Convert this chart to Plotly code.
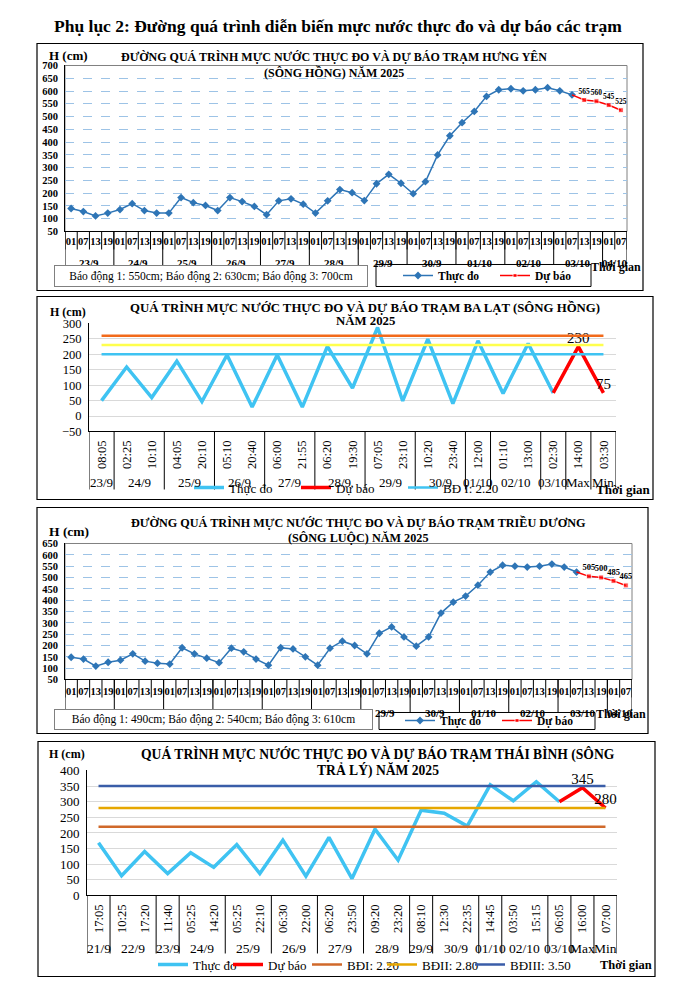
import plotly.graph_objects as go

W, H = 683, 999
SERIF = "Liberation Serif"

# ---------------- DATA ----------------
# Panel 1: Hưng Yên (sông Hồng)
hy_days = ["23/9"] * 4 + ["24/9"] * 4 + ["25/9"] * 4 + ["26/9"] * 4 + ["27/9"] * 4 + ["28/9"] * 4 + \
          ["29/9"] * 4 + ["30/9"] * 4 + ["01/10"] * 4 + ["02/10"] * 4 + ["03/10"] * 4 + ["04/10"] * 2
hy_hours = ["01", "07", "13", "19"] * 11 + ["01", "07"]
hy_obs = [140, 128, 111, 122, 136, 159, 132, 122, 122, 183, 163, 152, 132, 183, 167, 148,
          116, 170, 178, 157, 122, 170, 214, 202, 171, 237, 274, 239, 198, 245, 350, 425,
          476, 520, 579, 605, 609, 601, 605, 613, 601, 585]
hy_fc = [565, 560, 545, 525]
hy_alarm = "Báo động 1: 550cm; Báo động 2: 630cm; Báo động 3: 700cm"

# Panel 2: Ba Lạt (sông Hồng)
bl_days = ["23/9", "24/9", "24/9", "25/9", "25/9", "26/9", "26/9", "27/9", "27/9", "28/9", "28/9",
           "29/9", "29/9", "30/9", "30/9", "01/10", "02/10", "02/10", "03/10", "Max", "Min"]
bl_times = ["08:05", "02:25", "10:10", "04:05", "20:10", "05:10", "20:40", "06:00", "21:55", "06:20",
            "19:30", "07:05", "23:10", "10:20", "23:40", "12:00", "01:10", "13:00", "02:30", "14:00", "03:30"]
bl_obs = [50, 159, 60, 178, 47, 198, 29, 198, 29, 226, 91, 287, 49, 249, 40, 244, 73, 235, 75]
bl_fc = [225, 75]
bl_fc_labels = ["", "230", "75"]
bl_bd1, bl_bd2, bl_bd3 = 200, 230, 260

# Panel 3: Triều Dương (sông Luộc)
td_days = hy_days
td_hours = hy_hours
td_obs = [148, 140, 109, 126, 135, 163, 131, 122, 118, 190, 163, 144, 124, 188, 172, 140,
          113, 190, 185, 150, 113, 188, 219, 200, 163, 254, 282, 238, 197, 238, 343, 391,
          418, 466, 524, 554, 550, 546, 550, 559, 546, 524]
td_fc = [505, 500, 485, 465]
td_alarm = "Báo động 1: 490cm; Báo động 2: 540cm; Báo động 3: 610cm"

# Panel 4: Thái Bình (sông Trà Lý)
tb_days = ["21/9", "22/9", "22/9", "23/9", "24/9", "24/9", "25/9", "25/9", "26/9", "26/9", "27/9", "27/9",
           "28/9", "28/9", "29/9", "30/9", "30/9", "01/10", "02/10", "02/10", "03/10", "Max", "Min"]
tb_times = ["17:05", "10:25", "17:20", "11:40", "05:25", "14:20", "05:25", "22:10", "06:30", "22:00",
            "06:20", "23:50", "09:20", "23:20", "08:10", "12:30", "22:35", "14:45", "03:50", "15:15",
            "06:05", "16:00", "07:00"]
tb_obs = [169, 63, 141, 70, 137, 90, 163, 70, 177, 62, 186, 54, 212, 113, 273, 263, 222, 354, 303, 364, 300]
tb_fc = [345, 280]
tb_bd1, tb_bd2, tb_bd3 = 220, 280, 350

# ---------------- HELPERS ----------------
def px(x):
    return x / W

def py(y):
    # vertical pixel position -> paper fraction (with a small correction for the page capture)
    return 1 - ((y - 7.5) / 0.985) / H

def groups(days):
    out, s = [], 0
    for i in range(1, len(days) + 1):
        if i == len(days) or days[i] != days[s]:
            out.append((s, i - 1, days[s]))
            s = i
    return out

BLUE = "#2E75B6"
RED = "#FF0000"
CYAN = "#3FC3F2"

fig = go.Figure()
shapes = []
ann = []

def text(x, y, s, size, bold=True, xanchor="center"):
    ann.append(dict(x=px(x), y=py(y), xref="paper", yref="paper", text=s, showarrow=False,
                    xanchor=xanchor, yanchor="middle",
                    font=dict(family=SERIF, size=size, color="black", weight="bold" if bold else "normal")))

def category_table(xref, days, y_axis, y_cell, y_div, y_lab, font, cell_lines):
    n = len(days)
    g = groups(days)
    if cell_lines:
        for i in range(n + 1):
            shapes.append(dict(type="line", xref=xref, yref="paper", x0=i - 0.5, x1=i - 0.5,
                               y0=py(y_axis), y1=py(y_cell), line=dict(color="black", width=1)))
    bounds = sorted(set([s - 0.5 for s, e, _ in g] + [g[-1][1] + 0.5]))
    for b in bounds:
        shapes.append(dict(type="line", xref=xref, yref="paper", x0=b, x1=b,
                           y0=py(y_axis), y1=py(y_div), line=dict(color="black", width=1)))
    for s, e, lab in g:
        ann.append(dict(x=(s + e) / 2, y=py(y_lab), xref=xref, yref="paper", text=lab, showarrow=False,
                        xanchor="center", yanchor="middle", font=font))

# ---------- Panel 1 ----------
i1 = list(range(len(hy_days)))
n = len(hy_obs)
fig.add_trace(go.Scatter(
    x=i1[:n], y=hy_obs, mode="lines+markers", name="Thực đo",
    line=dict(color=BLUE, width=1.5), marker=dict(symbol="diamond", size=6, color=BLUE),
    xaxis="x", yaxis="y", legend="legend"))
fig.add_trace(go.Scatter(
    x=i1[n - 1:], y=[hy_obs[-1]] + hy_fc, mode="lines+markers+text",
    name="Dự báo", text=[""] + [str(v) for v in hy_fc], textposition="top center",
    textfont=dict(family=SERIF, size=7.5, color="black", weight="bold"),
    line=dict(color=RED, width=1.5), marker=dict(symbol="square", size=[0, 5, 5, 5, 5], color=RED),
    xaxis="x", yaxis="y", legend="legend"))

# ---------- Panel 2 ----------
i2 = list(range(len(bl_days)))
m = len(bl_obs)
fig.add_trace(go.Scatter(
    x=i2[:m], y=bl_obs, mode="lines", name="Thực đo",
    line=dict(color=CYAN, width=3.5), xaxis="x2", yaxis="y2", legend="legend2"))
fig.add_trace(go.Scatter(
    x=i2[m - 1:], y=[bl_obs[-1]] + bl_fc, mode="lines+text",
    name="Dự báo", text=bl_fc_labels, textposition="top center",
    textfont=dict(family=SERIF, size=15, color="black"),
    line=dict(color=RED, width=3.5), xaxis="x2", yaxis="y2", legend="legend2"))
fig.add_trace(go.Scatter(
    x=i2, y=[bl_bd1] * len(i2), mode="lines", name="BĐ I: 2.20",
    line=dict(color=CYAN, width=2.5), xaxis="x2", yaxis="y2", legend="legend2"))
fig.add_trace(go.Scatter(
    x=i2, y=[bl_bd2] * len(i2), mode="lines", name="BĐ II",
    line=dict(color="#FFFF4D", width=2.5), xaxis="x2", yaxis="y2", showlegend=False))
fig.add_trace(go.Scatter(
    x=i2, y=[bl_bd3] * len(i2), mode="lines", name="BĐ III",
    line=dict(color="#F26A1B", width=2.5), xaxis="x2", yaxis="y2", showlegend=False))

# ---------- Panel 3 ----------
i3 = list(range(len(td_days)))
k = len(td_obs)
fig.add_trace(go.Scatter(
    x=i3[:k], y=td_obs, mode="lines+markers", name="Thực đo",
    line=dict(color=BLUE, width=1.5), marker=dict(symbol="diamond", size=6, color=BLUE),
    xaxis="x3", yaxis="y3", legend="legend3"))
fig.add_trace(go.Scatter(
    x=i3[k - 1:], y=[td_obs[-1]] + td_fc, mode="lines+markers+text",
    name="Dự báo", text=[""] + [str(v) for v in td_fc], textposition="top center",
    textfont=dict(family=SERIF, size=8.5, color="black", weight="bold"),
    line=dict(color=RED, width=1.5), marker=dict(symbol="square", size=[0, 5, 5, 5, 5], color=RED),
    xaxis="x3", yaxis="y3", legend="legend3"))

# ---------- Panel 4 ----------
i4 = list(range(len(tb_days)))
q = len(tb_obs)
fig.add_trace(go.Scatter(
    x=i4[:q], y=tb_obs, mode="lines", name="Thực đo",
    line=dict(color=CYAN, width=3.5), xaxis="x4", yaxis="y4", legend="legend4"))
fig.add_trace(go.Scatter(
    x=i4[q - 1:], y=[tb_obs[-1]] + tb_fc, mode="lines+text",
    name="Dự báo", text=[""] + [str(v) for v in tb_fc], textposition="top center",
    textfont=dict(family=SERIF, size=15, color="black"),
    line=dict(color=RED, width=3.5), xaxis="x4", yaxis="y4", legend="legend5"))
fig.add_trace(go.Scatter(
    x=i4, y=[tb_bd1] * len(i4), mode="lines", name="BĐI: 2.20",
    line=dict(color="#D0692A", width=2.5), xaxis="x4", yaxis="y4", legend="legend6"))
fig.add_trace(go.Scatter(
    x=i4, y=[tb_bd2] * len(i4), mode="lines", name="BĐII: 2.80",
    line=dict(color="#E6A700", width=2.5), xaxis="x4", yaxis="y4", legend="legend7"))
fig.add_trace(go.Scatter(
    x=i4, y=[tb_bd3] * len(i4), mode="lines", name="BĐIII: 3.50",
    line=dict(color="#3A5DA8", width=2.5), xaxis="x4", yaxis="y4", legend="legend8"))

# ---------------- AXES ----------------
bold10 = dict(family=SERIF, size=10.5, color="black", weight="bold")
bold11 = dict(family=SERIF, size=11, color="black", weight="bold")
norm12 = dict(family=SERIF, size=12.5, color="black")
norm13 = dict(family=SERIF, size=13, color="black")

def xax(domain, anchor, labels, font, angle, standoff=0):
    n = len(labels)
    return dict(domain=domain, anchor=anchor, type="linear", range=[-0.5, n - 0.5],
                tickmode="array", tickvals=list(range(n)), ticktext=labels, tickangle=angle,
                ticks="", showgrid=False, zeroline=False, showline=True, linecolor="black",
                linewidth=1, tickfont=font, ticklabelstandoff=standoff, fixedrange=True)

def yax(domain, anchor, rng, font, grid, dash):
    return dict(domain=domain, anchor=anchor, range=rng, dtick=50, tick0=0, showgrid=True,
                gridcolor=grid, griddash=dash, gridwidth=1, showline=True, linecolor="black",
                zeroline=False, ticks="", tickfont=font, ticklabelstandoff=4, fixedrange=True)

fig.update_layout(
    xaxis=xax([px(65), px(627)], "y", hy_hours, bold10, 0),
    yaxis=yax([py(232), py(66)], "x", [50, 700], bold10, "#9DC3E6", "dash"),
    xaxis2=xax([px(89), px(616)], "y2", bl_times, norm12, -90, 3),
    yaxis2=yax([py(432), py(324)], "x2", [-50, 300], norm12, "#D9D9D9", "solid"),
    xaxis3=xax([px(65), px(632)], "y3", td_hours, bold10, 0, 2),
    yaxis3=yax([py(680), py(544)], "x3", [50, 650], bold10, "#9DC3E6", "dash"),
    xaxis4=xax([px(87), px(617)], "y4", tb_times, norm12, -90, 3),
    yaxis4=yax([py(896), py(771)], "x4", [0, 400], norm13, "#D9D9D9", "solid"),
)

# category tables (dividers + date labels)
category_table("x", hy_days, 232, 250, 268, 264, bold11, True)
category_table("x2", bl_days, 432, 432, 490, 483, norm13, False)
category_table("x3", td_days, 680, 698, 713, 714, bold11, True)
category_table("x4", tb_days, 896, 896, 954, 949, dict(family=SERIF, size=13.5, color="black"), False)

# ---------------- LEGENDS ----------------
def leg(x, y, font, ew=0):
    d = dict(x=px(x), y=py(y), xanchor="left", yanchor="middle", orientation="h",
             bgcolor="rgba(0,0,0,0)", borderwidth=0, font=font, traceorder="normal",
             itemwidth=30, tracegroupgap=0)
    if ew:
        d["entrywidth"] = ew
        d["entrywidthmode"] = "pixels"
    return d

f13 = dict(family=SERIF, size=13, color="black")
fig.update_layout(
    legend=leg(398, 276, dict(family=SERIF, size=11.5, color="black", weight="bold"), 52),
    legend2=leg(189, 488, f13, 62),
    legend3=leg(400, 721, dict(family=SERIF, size=11.5, color="black", weight="bold"), 52),
    legend4=leg(153, 965, f13),
    legend5=leg(228, 965, f13),
    legend6=leg(307, 965, f13),
    legend7=leg(382, 965, f13),
    legend8=leg(470, 965, f13),
)

# ---------------- FRAMES ----------------
for (x0, y0, x1, y1) in [(37, 44, 643, 291), (37, 297, 653, 500), (37, 508, 648, 734), (38, 742, 655, 977)]:
    shapes.append(dict(type="rect", xref="paper", yref="paper", x0=px(x0), x1=px(x1), y0=py(y1), y1=py(y0),
                       line=dict(color="black", width=1.2), fillcolor="rgba(0,0,0,0)", layer="above"))
for xr, yr in [("x", "y"), ("x3", "y3")]:
    shapes.append(dict(type="rect", xref=xr + " domain", yref=yr + " domain", x0=0, x1=1, y0=0, y1=1,
                       line=dict(color="#808080", width=1), layer="below"))
for (x0, y0, x1, y1) in [(376, 265, 591, 287), (379, 713, 595, 730)]:
    shapes.append(dict(type="rect", xref="paper", yref="paper", x0=px(x0), x1=px(x1), y0=py(y1), y1=py(y0),
                       line=dict(color="black", width=1), fillcolor="white", layer="above"))

# ---------------- TEXTS ----------------
text(338, 27, "Phụ lục 2: Đường quá trình diễn biến mực nước thực đo và dự báo các trạm", 17.5)
text(47, 56, "H (cm)", 13, xanchor="left")
text(334, 58, "ĐƯỜNG QUÁ TRÌNH MỰC NƯỚC THỰC ĐO VÀ DỰ BÁO TRẠM HƯNG YÊN", 12)
text(334, 73, "(SÔNG HỒNG) NĂM 2025", 12)
text(616, 268, "Thời gian", 12)
text(48, 313, "H (cm)", 12, xanchor="left")
text(365, 308, "QUÁ TRÌNH MỰC NƯỚC THỰC ĐO VÀ DỰ BÁO TRẠM BA LẠT (SÔNG HỒNG)", 12.8)
text(365, 322, "NĂM 2025", 12.8)
text(623, 490, "Thời gian", 13)
text(47, 532, "H (cm)", 13.5, xanchor="left")
text(358, 523, "ĐƯỜNG QUÁ TRÌNH MỰC NƯỚC THỰC ĐO VÀ DỰ BÁO TRẠM TRIỀU DƯƠNG", 12.2)
text(358, 539, "(SÔNG LUỘC) NĂM 2025", 12.2)
text(621, 715, "Thời gian", 12)
text(47, 755, "H (cm)", 12, xanchor="left")
text(378, 755, "QUÁ TRÌNH MỰC NƯỚC THỰC ĐO VÀ DỰ BÁO TRẠM THÁI BÌNH (SÔNG", 13.6)
text(378, 771, "TRẢ LÝ) NĂM 2025", 13.6)
text(626, 966, "Thời gian", 12.5)

for (x0, y0, x1, y1, s) in [(54, 266, 368, 288, hy_alarm), (54, 710, 373, 731, td_alarm)]:
    ann.append(dict(x=px((x0 + x1) / 2), y=py((y0 + y1) / 2), xref="paper", yref="paper", text=s,
                    showarrow=False, xanchor="center", yanchor="middle", width=x1 - x0 - 4, height=y1 - y0 - 4,
                    bgcolor="white", bordercolor="#808080", borderwidth=1, borderpad=1,
                    font=dict(family=SERIF, size=11.5, color="black")))

fig.update_layout(shapes=shapes, annotations=ann)
fig.update_layout(width=W, height=H, margin=dict(l=0, r=0, t=0, b=0),
                  paper_bgcolor="white", plot_bgcolor="white", showlegend=True,
                  font=dict(family=SERIF, color="black"))

fig.write_html("out.html", config={"displayModeBar": False},
               post_script="document.body.style.margin='0px';")
